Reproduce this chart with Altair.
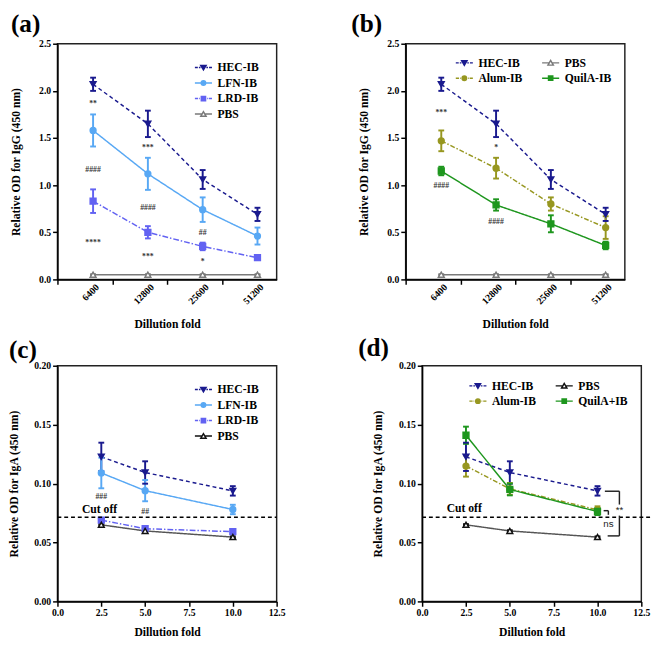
import altair as alt
import pandas as pd

SERIF = "Liberation Serif"

# ---------------- data ----------------
DILUTIONS = ["6400", "12800", "25600", "51200"]
FOLDS = [2.5, 5.0, 10.0]

# IgG, panels (a) and (b)
HEC_IGG = [2.07, 1.65, 1.06, 0.69]
HEC_IGG_SEM = [0.07, 0.14, 0.10, 0.07]
LFN_IGG = [1.58, 1.12, 0.74, 0.46]
LFN_IGG_SEM = [0.17, 0.17, 0.13, 0.09]
LRD_IGG = [0.83, 0.50, 0.35, 0.23]
LRD_IGG_SEM = [0.125, 0.065, 0.04, 0.02]
PBS_IGG = [0.05, 0.05, 0.05, 0.05]
PBS_IGG_SEM = [0.005, 0.005, 0.005, 0.005]
ALUM_IGG = [1.47, 1.18, 0.80, 0.55]
ALUM_IGG_SEM = [0.11, 0.11, 0.07, 0.12]
QUILA_IGG = [1.15, 0.79, 0.59, 0.36]
QUILA_IGG_SEM = [0.045, 0.06, 0.09, 0.04]

# IgA, panels (c) and (d)
HEC_IGA = [0.1227, 0.1094, 0.0938]
HEC_IGA_SEM = [0.012, 0.0095, 0.004]
LFN_IGA = [0.109, 0.094, 0.078]
LFN_IGA_SEM = [0.013, 0.009, 0.004]
LRD_IGA = [0.069, 0.0617, 0.0592]
LRD_IGA_SEM = [0.0015, 0.001, 0.001]
PBS_IGA = [0.065, 0.0598, 0.0546]
PBS_IGA_SEM = [0.0006, 0.0006, 0.0006]
ALUM_IGA = [0.1149, 0.0955, 0.0777]
ALUM_IGA_SEM = [0.009, 0.005, 0.003]
QUILA_IGA = [0.141, 0.095, 0.0763]
QUILA_IGA_SEM = [0.0073, 0.005, 0.003]
CUTOFF = 0.0715

# significance annotations
ANNOT_A_TEXT = ["**", "####", "****", "***", "####", "***", "##", "*"]
ANNOT_A_X = ["6400", "6400", "6400", "12800", "12800", "12800", "25600", "25600"]
ANNOT_A_Y = [1.86, 1.165, 0.39, 1.39, 0.76, 0.24, 0.49, 0.18]
ANNOT_B_TEXT = ["***", "####", "*", "####"]
ANNOT_B_X = ["6400", "6400", "12800", "12800"]
ANNOT_B_Y = [1.76, 0.99, 1.39, 0.61]
ANNOT_C_TEXT = ["###", "##"]
ANNOT_C_X = [2.5, 5.0]
ANNOT_C_Y = [0.0887, 0.076]
CUT_LABEL = "Cut off"
CUT_LABEL_X = 2.4
CUT_LABEL_Y = [0.0787, 0.079]

# brackets in (d)
BR_X = [10.42, 11.25, 11.25, 10.58, 10.35, 10.62]
BR_X2 = [11.25, 11.25, 11.25, 11.25, 10.62, 10.62]
BR_Y = [0.0935, 0.0935, 0.0728, 0.0556, 0.0770, 0.0770]
BR_Y2 = [0.0935, 0.0822, 0.0556, 0.0556, 0.0770, 0.0735]
SIG_TEXT = ["**", "ns"]
SIG_X = [11.25, 10.62]
SIG_Y = [0.0777, 0.0655]

# ---------------- styles ----------------
COLOR = {
    "HEC-IB": "#1a1a8e", "LFN-IB": "#58a8f4", "LRD-IB": "#6262f2",
    "PBS": "#7a7a7a", "Alum-IB": "#979720", "QuilA-IB": "#1e961e", "QuilA+IB": "#1e961e",
}
DASH = {
    "HEC-IB": [4, 3], "LFN-IB": [1, 0], "LRD-IB": [6, 2, 1.5, 2], "PBS": [1, 0],
    "Alum-IB": [5, 2, 1.5, 2], "QuilA-IB": [1, 0], "QuilA+IB": [1, 0],
}
SHAPE = {
    "HEC-IB": "triangle-down", "LFN-IB": "circle", "LRD-IB": "square", "PBS": "triangle-up",
    "Alum-IB": "circle", "QuilA-IB": "square", "QuilA+IB": "square",
}
TRI_DOWN = "M-0.5,-0.4L0.5,-0.4L0,0.45Z"
TRI_UP = "M-0.5,0.42L0.5,0.42L0,-0.45Z"
CIRC = "M0.42,0A0.42,0.42,0,1,1,-0.42,0A0.42,0.42,0,1,1,0.42,0Z"
SQR = "M-0.4,-0.4H0.4V0.4H-0.4Z"
SOLID = "M-1.6,0H1.6"
DASHED = "M-1.6,0H-1.05M-0.85,0H-0.55M0.55,0H0.85M1.05,0H1.6"
DASHDOT = "M-1.6,0H-1.0M-0.82,0H-0.68M0.68,0H0.82M1.0,0H1.6"
LEGPATH = {
    "HEC-IB": DASHED + TRI_DOWN,
    "LFN-IB": SOLID + CIRC,
    "LRD-IB": DASHDOT + SQR,
    "PBS": "M-1.6,0H-0.27M0.27,0H1.6" + TRI_UP,
    "Alum-IB": DASHDOT + CIRC,
    "QuilA-IB": SOLID + SQR,
    "QuilA+IB": SOLID + SQR,
}

W, H = 226, 243
OFF = 0.65   # position of a dilution inside its tick interval


def long_df(xs, series, categorical):
    rows = []
    for name, means, sems in series:
        for xv, m, s in zip(xs, means, sems):
            pos = DILUTIONS.index(xv) + OFF if categorical else xv
            rows.append({"series": name, "pos": pos, "mean": m, "sem": s})
    return pd.DataFrame(rows)


def igg_x_axis():
    expr = "''"
    for i in reversed(range(len(DILUTIONS))):
        expr = f"(round(datum.value) == {i}) ? '{DILUTIONS[i]}' : ({expr})"
    return alt.Axis(values=[0, 1, 2, 3], labelExpr=expr,
                    labelAngle=315, labelAlign="right", labelBaseline="middle", labelPadding=1,
                    labelOffset=41, labelOverlap=False, labelFlush=False,
                    tickSize=5, title="Dillution fold", titlePadding=13)


def iga_x_axis():
    return alt.Axis(values=[0, 2.5, 5, 7.5, 10, 12.5], format=".1f", labelAngle=0, tickSize=5,
                    labelOverlap=False, labelFlush=False,
                    title="Dillution fold", titlePadding=9)


def y_axis(title, values, test, fmt, tpad):
    return alt.Axis(values=values, labelExpr=f"{test} ? format(datum.value, '{fmt}') : ''",
                    tickSize={"condition": {"test": test, "value": 5}, "value": 3},
                    labelOverlap=False, title=title, titlePadding=tpad, labelPadding=2)


def letter_layer(letter, dx, dy):
    return alt.Chart(pd.DataFrame({"t": [letter]})).mark_text(
        font=SERIF, fontSize=26, fontWeight="bold", color="black", align="left", baseline="top"
    ).encode(text="t:N", x=alt.value(dx), y=alt.value(dy))


def panel(letter, df, order, mcol, lcol, fills, xscale, xaxis, yscale, yaxis, legend, extras, lpos):
    base = alt.Chart(df).transform_calculate(lo="datum.mean - datum.sem", hi="datum.mean + datum.sem")

    def sc(rng):
        return alt.Scale(domain=order, range=rng)

    stroke_m = alt.Stroke("series:N", scale=sc([mcol[s] for s in order]), legend=None)
    Xn = alt.X("pos:Q")
    lines = base.mark_line(strokeWidth=1.5).encode(
        x=alt.X("pos:Q", scale=xscale, axis=xaxis),
        y=alt.Y("mean:Q", scale=yscale, axis=yaxis),
        stroke=alt.Stroke("series:N", scale=sc([lcol[s] for s in order]), legend=None),
        strokeDash=alt.StrokeDash("series:N", scale=sc([DASH[s] for s in order]), legend=None),
    )
    bars = base.mark_rule(strokeWidth=2).encode(
        x=Xn, y=alt.Y("lo:Q"), y2="hi:Q", stroke=stroke_m)
    cap_lo = base.mark_point(shape="M-1,0H1", size=36, strokeWidth=2, filled=False, opacity=1).encode(
        x=Xn, y=alt.Y("lo:Q"), stroke=stroke_m)
    cap_hi = base.mark_point(shape="M-1,0H1", size=36, strokeWidth=2, filled=False, opacity=1).encode(
        x=Xn, y=alt.Y("hi:Q"), stroke=stroke_m)
    pts = base.mark_point(size=36, strokeWidth=1.5, filled=False, opacity=1).encode(
        x=Xn, y=alt.Y("mean:Q"),
        shape=alt.Shape("series:N", scale=sc([SHAPE[s] for s in order]), legend=None),
        stroke=stroke_m,
        fill=alt.Fill("series:N", scale=sc([fills[s] for s in order]), legend=None),
    )
    leg = base.transform_filter("false").mark_point(filled=False, opacity=1).encode(
        x=Xn, y=alt.Y("mean:Q"),
        shape=alt.Shape("series:N", scale=sc([LEGPATH[s] for s in order]), legend=legend),
        stroke=alt.Stroke("series:N", scale=sc([mcol[s] for s in order]), legend=legend),
        fill=alt.Fill("series:N", scale=sc([fills[s] for s in order]), legend=legend),
    )
    return alt.layer(lines, bars, cap_lo, cap_hi, pts, leg, *extras,
                     letter_layer(letter, lpos[0], lpos[1])).resolve_scale(
        stroke="independent", fill="independent", shape="independent", strokeDash="independent"
    ).properties(width=W, height=H)


def make_legend(cols, offset):
    return alt.Legend(title=None, orient="top-right", offset=offset, columns=cols,
                      labelFont=SERIF, labelFontSize=12, labelFontWeight="bold", labelColor="black",
                      symbolSize=121, symbolStrokeWidth=1.5, labelOffset=8, rowPadding=3,
                      columnPadding=16, symbolOpacity=1)


def annot_layer(texts, xs, ys, categorical):
    pos = [DILUTIONS.index(x) + OFF if categorical else x for x in xs]
    d = pd.DataFrame({"t": texts, "pos": pos, "y": ys})
    return alt.Chart(d).mark_text(font=SERIF, fontSize=8, fontWeight="bold", color="#333333",
                                  baseline="middle").encode(
        x=alt.X("pos:Q"), y=alt.Y("y:Q"), text="t:N")


def cutoff_layers(x_end, label_y):
    d = pd.DataFrame({"x": [0.0], "x2": [x_end], "y": [CUTOFF]})
    rule = alt.Chart(d).mark_rule(strokeDash=[4, 3], strokeWidth=1.5, color="black").encode(
        x=alt.X("x:Q"), x2="x2:Q", y=alt.Y("y:Q"))
    t = pd.DataFrame({"t": [CUT_LABEL], "x": [CUT_LABEL_X], "y": [label_y]})
    txt = alt.Chart(t).mark_text(font=SERIF, fontSize=12, fontWeight="bold", color="black",
                                 baseline="middle").encode(
        x=alt.X("x:Q"), y=alt.Y("y:Q"), text="t:N")
    return [rule, txt]


fills_std = {k: v for k, v in COLOR.items()}
fills_std["PBS"] = "white"

# ---------------- panel (a) ----------------
df_a = long_df(DILUTIONS, [("HEC-IB", HEC_IGG, HEC_IGG_SEM), ("LFN-IB", LFN_IGG, LFN_IGG_SEM),
                           ("LRD-IB", LRD_IGG, LRD_IGG_SEM), ("PBS", PBS_IGG, PBS_IGG_SEM)], True)
igg_y_vals = [i * 0.25 for i in range(11)]
igg_test = "round(datum.value*4) % 2 == 0"
pa = panel("(a)", df_a, ["HEC-IB", "LFN-IB", "LRD-IB", "PBS"], COLOR, COLOR, fills_std,
           alt.Scale(domain=[0, 4], nice=False), igg_x_axis(),
           alt.Scale(domain=[0, 2.5], nice=False),
           y_axis("Relative OD for IgG (450 nm)", igg_y_vals, igg_test, ".1f", 17),
           make_legend(1, 18), [annot_layer(ANNOT_A_TEXT, ANNOT_A_X, ANNOT_A_Y, True)], (-48, -33))

# ---------------- panel (b) ----------------
df_b = long_df(DILUTIONS, [("HEC-IB", HEC_IGG, HEC_IGG_SEM), ("Alum-IB", ALUM_IGG, ALUM_IGG_SEM),
                           ("PBS", PBS_IGG, PBS_IGG_SEM), ("QuilA-IB", QUILA_IGG, QUILA_IGG_SEM)], True)
pb = panel("(b)", df_b, ["HEC-IB", "Alum-IB", "PBS", "QuilA-IB"], COLOR, COLOR, fills_std,
           alt.Scale(domain=[0, 4], nice=False), igg_x_axis(),
           alt.Scale(domain=[0, 2.5], nice=False),
           y_axis("Relative OD for IgG (450 nm)", igg_y_vals, igg_test, ".1f", 17),
           make_legend(2, 13), [annot_layer(ANNOT_B_TEXT, ANNOT_B_X, ANNOT_B_Y, True)], (-56, -33))

# ---------------- panel (c) ----------------
col_cd_m = dict(COLOR)
col_cd_m["PBS"] = "#111111"
col_cd_l = dict(COLOR)
col_cd_l["PBS"] = "#555555"
iga_y_vals = [i * 0.025 for i in range(9)]
iga_test = "round(datum.value*40) % 2 == 0"
df_c = long_df(FOLDS, [("HEC-IB", HEC_IGA, HEC_IGA_SEM), ("LFN-IB", LFN_IGA, LFN_IGA_SEM),
                       ("LRD-IB", LRD_IGA, LRD_IGA_SEM), ("PBS", PBS_IGA, PBS_IGA_SEM)], False)
pc = panel("(c)", df_c, ["HEC-IB", "LFN-IB", "LRD-IB", "PBS"], col_cd_m, col_cd_l, fills_std,
           alt.Scale(domain=[0, 12.5], nice=False), iga_x_axis(),
           alt.Scale(domain=[0, 0.2], nice=False),
           y_axis("Relative OD for IgA (450 nm)", iga_y_vals, iga_test, ".2f", 14),
           make_legend(1, 18),
           cutoff_layers(12.5, CUT_LABEL_Y[0]) + [annot_layer(ANNOT_C_TEXT, ANNOT_C_X, ANNOT_C_Y, False)],
           (-50, -29))

# ---------------- panel (d) ----------------
df_d = long_df(FOLDS, [("HEC-IB", HEC_IGA, HEC_IGA_SEM), ("Alum-IB", ALUM_IGA, ALUM_IGA_SEM),
                       ("PBS", PBS_IGA, PBS_IGA_SEM), ("QuilA+IB", QUILA_IGA, QUILA_IGA_SEM)], False)
br = pd.DataFrame({"x": BR_X, "x2": BR_X2, "y": BR_Y, "y2": BR_Y2})
bracket = alt.Chart(br).mark_rule(strokeWidth=1.5, color="#222222").encode(
    x=alt.X("x:Q"), x2="x2:Q", y=alt.Y("y:Q"), y2="y2:Q")
sig = pd.DataFrame({"t": SIG_TEXT, "x": SIG_X, "y": SIG_Y})
sig_txt = alt.Chart(sig).mark_text(font="Liberation Sans", fontSize=10, color="#222222",
                                   baseline="middle").encode(
    x=alt.X("x:Q"), y=alt.Y("y:Q"), text="t:N")
pdd = panel("(d)", df_d, ["HEC-IB", "Alum-IB", "PBS", "QuilA+IB"], col_cd_m, col_cd_l, fills_std,
            alt.Scale(domain=[0, 12.5], nice=False), iga_x_axis(),
            alt.Scale(domain=[0, 0.2], nice=False),
            y_axis("Relative OD for IgA (450 nm)", iga_y_vals, iga_test, ".2f", 14),
            make_legend(2, 14),
            cutoff_layers(13.0, CUT_LABEL_Y[1]) + [bracket, sig_txt], (-66, -31))

RES = dict(stroke="independent", fill="independent", shape="independent", strokeDash="independent")
top = alt.hconcat(pa, pb, spacing=75).resolve_scale(**RES)
bottom = alt.hconcat(pc, pdd, spacing=73).resolve_scale(**RES)
chart = alt.vconcat(top, bottom, spacing=5).resolve_scale(**RES).properties(
    padding={"left": -2, "top": -7, "right": 0, "bottom": -6}, background="white"
).configure(
    font=SERIF
).configure_axis(
    domainColor="black", domainWidth=1.5, tickColor="black", tickWidth=1.5,
    labelFont=SERIF, labelFontWeight="bold", labelFontSize=10, labelColor="black",
    titleFont=SERIF, titleFontWeight="bold", titleFontSize=12, titleColor="black",
    grid=False, labelFlush=False, labelOverlap=False
).configure_legend(
    labelFont=SERIF, labelFontWeight="bold", labelFontSize=12, labelColor="black"
).configure_view(stroke="#222222", strokeWidth=1.5)

chart.save("out.html", embed_options={"renderer": "svg", "actions": False})
